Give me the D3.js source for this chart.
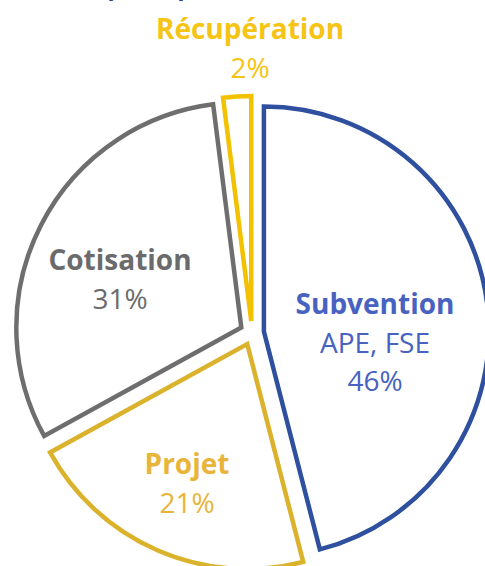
<!DOCTYPE html>
<html>
<head>
<meta charset="utf-8">
<script src="https://cdn.jsdelivr.net/npm/d3@7"></script>
<style>
  body { margin: 0; background: #fff; }
  svg { display: block; }
  text { font-family: "Open Sans", sans-serif; }
</style>
</head>
<body>
<div id="chart"></div>
<script>
// data
let categories = ["Subvention", "Projet", "Cotisation", "Récupération"];
let subLabels = ["APE, FSE", "", "", ""];
let shares = [46, 21, 31, 2];
let strokeColors = ["#2f4f9f", "#dab22c", "#6e6e6e", "#f2c200"];
let textColors = ["#4762c0", "#e9b43a", "#6b6b6b", "#f5c414"];

let svgWidth = 485;
let svgHeight = 566;

let cx = 252;
let cy = 333;
let radius = 225;
let explode = 12;

let svg = d3.select("#chart")
  .append("svg")
  .attr("width", svgWidth)
  .attr("height", svgHeight);

// title, cut off by the top edge in the original
svg.append("text")
  .attr("x", 146)
  .attr("y", -3)
  .attr("text-anchor", "middle")
  .attr("font-size", "28px")
  .attr("font-weight", "bold")
  .attr("fill", "#1f3f9a")
  .text("(2021)");

let pie = d3.pie()
  .sort(null)
  .value(d => d);

let arc = d3.arc()
  .innerRadius(0)
  .outerRadius(radius);

let pieGroup = svg.append("g")
  .attr("transform", `translate(${cx}, ${cy})`);

pieGroup.selectAll("path")
  .data(pie(shares))
  .enter()
  .append("path")
  .attr("transform", d => {
    let mid = (d.startAngle + d.endAngle) / 2;
    return `translate(${Math.sin(mid) * explode}, ${-Math.cos(mid) * explode})`;
  })
  .attr("d", arc)
  .attr("fill", "#fff")
  .attr("stroke", (d, i) => strokeColors[i])
  .attr("stroke-width", 4.5)
  .attr("stroke-linejoin", "miter");

// label positions (center x, first baseline)
let labelPos = [[375, 314], [187, 474], [120, 270], [250, 39]];

categories.forEach(function(name, i) {
  let g = svg.append("g")
    .attr("transform", `translate(${labelPos[i][0]}, ${labelPos[i][1]})`);
  let lines = [name];
  if (subLabels[i]) lines.push(subLabels[i]);
  lines.push(shares[i] + "%");
  lines.forEach(function(line, j) {
    g.append("text")
      .attr("x", 0)
      .attr("y", j * 38.5)
      .attr("text-anchor", "middle")
      .attr("font-size", "28px")
      .attr("font-weight", j === 0 ? "bold" : "normal")
      .attr("fill", textColors[i])
      .text(line);
  });
});
</script>
</body>
</html>
